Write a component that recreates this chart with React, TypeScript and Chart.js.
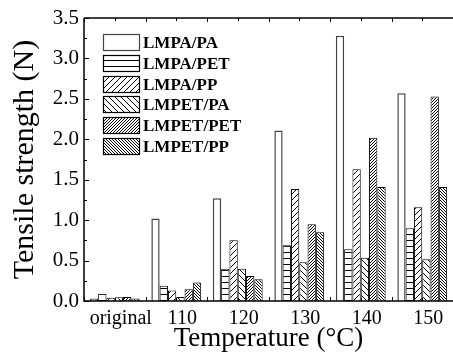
import React, { useEffect, useRef } from 'react';
import { Chart, registerables } from 'chart.js';

Chart.register(...registerables);

const categories = ['original', '110', '120', '130', '140', '150'];
const seriesNames = ['LMPA/PA', 'LMPA/PET', 'LMPA/PP', 'LMPET/PA', 'LMPET/PET', 'LMPET/PP'];
const lmpaPa = [0.03, 1.02, 1.27, 2.11, 3.28, 2.57];
const lmpaPet = [0.09, 0.19, 0.40, 0.69, 0.64, 0.90];
const lmpaPp = [0.04, 0.13, 0.75, 1.385, 1.63, 1.16];
const lmpetPa = [0.045, 0.05, 0.40, 0.48, 0.535, 0.515];
const lmpetPet = [0.05, 0.145, 0.31, 0.95, 2.02, 2.53];
const lmpetPp = [0.03, 0.23, 0.27, 0.85, 1.41, 1.41];
const yTickLabels = ['0.0', '0.5', '1.0', '1.5', '2.0', '2.5', '3.0', '3.5'];
const xTitle = 'Temperature (\u00B0C)';
const yTitle = 'Tensile strength (N)';

const W = 453;
const H = 358;
const FONT = '"Liberation Serif", "Times New Roman", serif';

function makePattern(ctx: CanvasRenderingContext2D, kind: string): CanvasPattern | string {
  if (kind === 'none') return '#ffffff';
  const dense = kind.indexOf('Dense') >= 0;
  const s = dense ? 3 : 6;
  const c = document.createElement('canvas');
  c.width = s;
  c.height = s;
  const g = c.getContext('2d')!;
  g.fillStyle = '#ffffff';
  g.fillRect(0, 0, s, s);
  g.strokeStyle = '#000000';
  g.lineWidth = dense ? 1.0 : 1;
  g.beginPath();
  if (kind === 'h') {
    g.moveTo(0, 0.5);
    g.lineTo(s, 0.5);
  } else if (kind.indexOf('fwd') === 0) {
    g.moveTo(-1, s + 1);
    g.lineTo(s + 1, -1);
    g.moveTo(-1, 1);
    g.lineTo(1, -1);
    g.moveTo(s - 1, s + 1);
    g.lineTo(s + 1, s - 1);
  } else {
    g.moveTo(-1, -1);
    g.lineTo(s + 1, s + 1);
    g.moveTo(s - 1, -1);
    g.lineTo(s + 1, 1);
    g.moveTo(-1, s - 1);
    g.lineTo(1, s + 1);
  }
  g.stroke();
  return ctx.createPattern(c, 'repeat')!;
}

export default function App() {
  const ref = useRef<HTMLCanvasElement>(null);

  useEffect(() => {
    const canvas = ref.current!;
    const ctx = canvas.getContext('2d')!;
    const kinds = ['none', 'h', 'fwd', 'back', 'fwdDense', 'backDense'];
    const patterns = kinds.map((k) => makePattern(ctx, k));
    const seriesValues = [lmpaPa, lmpaPet, lmpaPp, lmpetPa, lmpetPet, lmpetPp];
    const borderColors = ['#444444', '#000000', '#000000', '#000000', '#000000', '#000000'];

    const framePlugin = {
      id: 'frame',
      afterDatasetsDraw(chart: any) {
        const { left, right, top, bottom } = chart.chartArea;
        const c = chart.ctx as CanvasRenderingContext2D;
        const ys = chart.scales.y;
        c.save();
        c.strokeStyle = '#000';
        c.lineWidth = 1.5;
        c.beginPath();
        c.moveTo(left, top);
        c.lineTo(W + 2, top);
        c.moveTo(left, top);
        c.lineTo(left, bottom);
        c.lineTo(W + 2, bottom);
        c.stroke();
        c.lineWidth = 1;
        c.beginPath();
        for (let i = 0; i <= 14; i++) {
          const v = i * 0.25;
          const py = Math.round(ys.getPixelForValue(v)) + 0.5;
          const len = i % 2 === 0 ? 5 : 3;
          c.moveTo(left, py);
          c.lineTo(left + len, py);
        }
        const n = categories.length;
        const cw = (right - left) / n;
        for (let i = 0; i <= n * 2; i++) {
          const px = Math.round(left + (i * cw) / 2) + 0.5;
          const len = i % 2 === 0 ? 4 : 3;
          c.moveTo(px, bottom);
          c.lineTo(px, bottom - len);
          c.moveTo(px, top);
          c.lineTo(px, top + len);
        }
        c.stroke();
        c.restore();
      },
    };

    const legendPlugin = {
      id: 'inLegend',
      afterDraw(chart: any) {
        const c = chart.ctx as CanvasRenderingContext2D;
        c.save();
        seriesNames.forEach((name, i) => {
          const x = 103;
          const y = Math.round(34 + i * 20.8);
          const w = 37;
          const h = 17;
          c.fillStyle = patterns[i] as any;
          c.fillRect(x, y, w, h);
          c.strokeStyle = borderColors[i];
          c.lineWidth = 1.2;
          c.strokeRect(x + 0.5, y + 0.5, w - 1, h - 1);
          c.fillStyle = '#000';
          c.font = 'bold 17px ' + FONT;
          c.textBaseline = 'middle';
          c.textAlign = 'left';
          c.fillText(name, 143, y + h / 2 + 1);
        });
        c.restore();
      },
    };

    const chart = new Chart(ctx, {
      type: 'bar',
      data: {
        labels: categories,
        datasets: seriesNames.map((name, i) => ({
          label: name,
          data: seriesValues[i],
          backgroundColor: patterns[i] as any,
          borderColor: borderColors[i],
          borderWidth: i === 0 ? 1.5 : 1,
          borderSkipped: 'bottom' as const,
          categoryPercentage: 0.81,
          barPercentage: 1,
        })),
      },
      options: {
        responsive: false,
        animation: false,
        devicePixelRatio: 1,
        layout: { padding: { top: 18, left: 0, right: 0, bottom: 0 } },
        plugins: { legend: { display: false }, tooltip: { enabled: false } },
        scales: {
          x: {
            offset: true,
            grid: { display: false, drawTicks: false },
            border: { display: false },
            ticks: {
              font: { family: FONT, size: 20 },
              color: '#000',
              padding: 6,
              labelOffset: 6,
              maxRotation: 0,
              autoSkip: false,
            },
            title: {
              display: true,
              text: xTitle,
              color: '#000',
              font: { family: FONT, size: 27, lineHeight: 1 },
              padding: { top: 0, bottom: 6 },
            },
            afterFit: (s: any) => {
              s.height = 57;
            },
          },
          y: {
            min: 0,
            max: 3.5,
            grid: { display: false, drawTicks: false },
            border: { display: false },
            ticks: {
              stepSize: 0.5,
              color: '#000',
              padding: 5,
              font: { family: FONT, size: 21 },
              callback: (v: any) => yTickLabels[Math.round(Number(v) / 0.5)],
            },
            title: {
              display: true,
              text: yTitle,
              color: '#000',
              font: { family: FONT, size: 30, lineHeight: 1 },
              padding: { top: 10, bottom: 0 },
            },
            afterFit: (s: any) => {
              s.width = 84;
            },
          },
        },
      },
      plugins: [framePlugin, legendPlugin],
    });

    return () => chart.destroy();
  }, []);

  return (
    <div style={{ position: 'fixed', left: 0, top: 0, width: W, height: H, background: '#fff', overflow: 'hidden' }}>
      <canvas ref={ref} width={W} height={H} style={{ width: W, height: H, display: 'block' }} />
    </div>
  );
}
